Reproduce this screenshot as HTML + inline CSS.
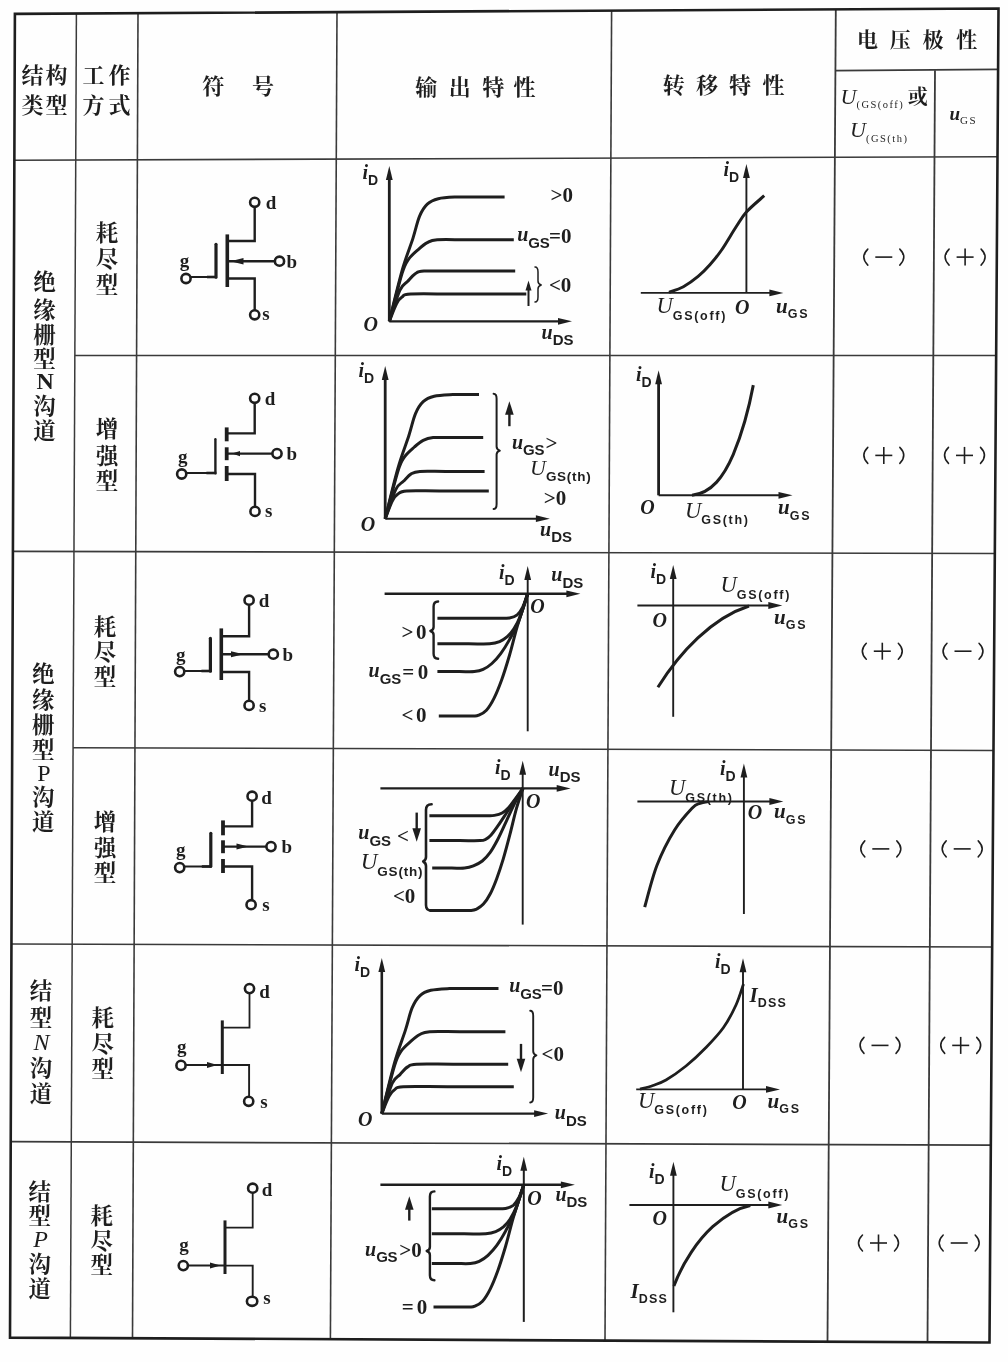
<!DOCTYPE html>
<html><head><meta charset="utf-8"><title>FET table</title><style>html,body{margin:0;padding:0;background:#fefefe}svg{display:block}text{font-family:"Liberation Serif",serif}.cj{font-family:"Liberation Serif","Noto Serif CJK SC",serif;font-weight:bold;fill:#1e1e1e}</style></head><body>
<svg width="1008" height="1362" viewBox="0 0 1008 1362">
<rect width="1008" height="1362" fill="#fefefe"/>
<g fill="#1e1e1e" stroke="none" style="filter:blur(0.45px)">
<path d="M76.4 13.5Q74.8 675.7 70.4 1337.9" stroke="#3a3a3a" stroke-width="1.5" fill="none"/>
<path d="M138 13.2Q136.7 675.7 132.5 1338.2" stroke="#3a3a3a" stroke-width="1.6" fill="none"/>
<path d="M337 12.1Q335.1 675.7 330.4 1339.2" stroke="#3a3a3a" stroke-width="1.6" fill="none"/>
<path d="M611.6 10.6Q609.7 675.6 605 1340.6" stroke="#3a3a3a" stroke-width="1.6" fill="none"/>
<path d="M835.8 9.4Q833.1 675.5 827.5 1341.7" stroke="#3a3a3a" stroke-width="1.8" fill="none"/>
<path d="M935 70.3L927.5 1342.2" stroke="#3a3a3a" stroke-width="1.8" stroke-linecap="butt"/>
<path d="M14.4 160.2L997.5 156.7" stroke="#3a3a3a" stroke-width="1.6" stroke-linecap="butt"/>
<path d="M74.8 355.5L996.2 355.5" stroke="#3a3a3a" stroke-width="1.5" stroke-linecap="butt"/>
<path d="M12.9 551.4L994.8 553.5" stroke="#3a3a3a" stroke-width="1.6" stroke-linecap="butt"/>
<path d="M73.1 747.8L993.5 750.5" stroke="#3a3a3a" stroke-width="1.5" stroke-linecap="butt"/>
<path d="M11.5 944L992.2 947" stroke="#3a3a3a" stroke-width="1.7" stroke-linecap="butt"/>
<path d="M10.7 1141.7L990.8 1145.2" stroke="#3a3a3a" stroke-width="1.7" stroke-linecap="butt"/>
<path d="M835.4 70.6L998.1 69.4" stroke="#3a3a3a" stroke-width="1.6" stroke-linecap="butt"/>
<path d="M14.9 13.9L998.5 8.5L989.5 1342.5L10 1337.6Z" stroke="#1e1e1e" stroke-width="2.6" fill="none" stroke-linecap="butt" stroke-linejoin="miter"/>
<text class="cj" x="21.5" y="82.9" font-size="22">结</text>
<text class="cj" x="45.5" y="82.9" font-size="22">构</text>
<text class="cj" x="21.5" y="112.9" font-size="22">类</text>
<text class="cj" x="45.5" y="112.9" font-size="22">型</text>
<text class="cj" x="82.5" y="82.9" font-size="22">工</text>
<text class="cj" x="108.5" y="82.9" font-size="22">作</text>
<text class="cj" x="82.5" y="112.9" font-size="22">方</text>
<text class="cj" x="108.5" y="112.9" font-size="22">式</text>
<text class="cj" x="202.2" y="94.4" font-size="22">符</text>
<text class="cj" x="252" y="94.4" font-size="22">号</text>
<text class="cj" x="415.3" y="94.6" font-size="22">输</text>
<text class="cj" x="448.8" y="94.6" font-size="22">出</text>
<text class="cj" x="482.3" y="94.6" font-size="22">特</text>
<text class="cj" x="513.6" y="94.6" font-size="22">性</text>
<text class="cj" x="662.7" y="93" font-size="22">转</text>
<text class="cj" x="696.1" y="93" font-size="22">移</text>
<text class="cj" x="729.1" y="93" font-size="22">特</text>
<text class="cj" x="762.6" y="93" font-size="22">性</text>
<text class="cj" x="857" y="46.7" font-size="21">电</text>
<text class="cj" x="889.8" y="46.7" font-size="21">压</text>
<text class="cj" x="922.5" y="46.7" font-size="21">极</text>
<text class="cj" x="956.2" y="46.7" font-size="21">性</text>
<text class="cj" x="907.7" y="103.8" font-size="20">或</text>
<text class="cj" x="33.2" y="290.4" font-size="22.5">绝</text>
<text class="cj" x="33.2" y="318.4" font-size="22.5">缘</text>
<text class="cj" x="33.2" y="343.4" font-size="22.5">栅</text>
<text class="cj" x="33.2" y="366.8" font-size="22.5">型</text>
<text x="45.1" y="388.5" font-family="Liberation Serif" font-size="24" font-weight="bold" font-style="normal" text-anchor="middle">N</text>
<text class="cj" x="33.2" y="413.8" font-size="22.5">沟</text>
<text class="cj" x="33.2" y="438.8" font-size="22.5">道</text>
<text class="cj" x="95.8" y="240.6" font-size="22.5">耗</text>
<text class="cj" x="95.8" y="267" font-size="22.5">尽</text>
<text class="cj" x="95.8" y="293.4" font-size="22.5">型</text>
<text class="cj" x="95.8" y="437.4" font-size="22.5">增</text>
<text class="cj" x="95.8" y="463.8" font-size="22.5">强</text>
<text class="cj" x="95.8" y="488.7" font-size="22.5">型</text>
<text class="cj" x="32.1" y="681.7" font-size="22.5">绝</text>
<text class="cj" x="32.1" y="708.1" font-size="22.5">缘</text>
<text class="cj" x="32.1" y="733.1" font-size="22.5">栅</text>
<text class="cj" x="32.1" y="758" font-size="22.5">型</text>
<text x="44" y="780.5" font-family="Liberation Serif" font-size="24" font-weight="normal" font-style="normal" text-anchor="middle">P</text>
<text class="cj" x="32.1" y="805" font-size="22.5">沟</text>
<text class="cj" x="32.1" y="830" font-size="22.5">道</text>
<text class="cj" x="93.7" y="634.7" font-size="22.5">耗</text>
<text class="cj" x="93.7" y="659.6" font-size="22.5">尽</text>
<text class="cj" x="93.7" y="684.6" font-size="22.5">型</text>
<text class="cj" x="93.7" y="830" font-size="22.5">增</text>
<text class="cj" x="93.7" y="856.4" font-size="22.5">强</text>
<text class="cj" x="93.7" y="881.4" font-size="22.5">型</text>
<text class="cj" x="29.7" y="999.4" font-size="22.5">结</text>
<text class="cj" x="29.7" y="1025.9" font-size="22.5">型</text>
<text x="41.6" y="1050.4" font-family="Liberation Serif" font-size="24" font-weight="normal" font-style="italic" text-anchor="middle">N</text>
<text class="cj" x="29.7" y="1075.8" font-size="22.5">沟</text>
<text class="cj" x="29.7" y="1102.2" font-size="22.5">道</text>
<text class="cj" x="91.4" y="1025.9" font-size="22.5">耗</text>
<text class="cj" x="91.4" y="1052.3" font-size="22.5">尽</text>
<text class="cj" x="91.4" y="1077.3" font-size="22.5">型</text>
<text class="cj" x="28.6" y="1200.2" font-size="22.5">结</text>
<text class="cj" x="28.6" y="1224" font-size="22.5">型</text>
<text x="40.5" y="1247.4" font-family="Liberation Serif" font-size="24" font-weight="normal" font-style="italic" text-anchor="middle">P</text>
<text class="cj" x="28.6" y="1271.6" font-size="22.5">沟</text>
<text class="cj" x="28.6" y="1297.4" font-size="22.5">道</text>
<text class="cj" x="90.6" y="1224" font-size="22.5">耗</text>
<text class="cj" x="90.6" y="1248.8" font-size="22.5">尽</text>
<text class="cj" x="90.6" y="1272.6" font-size="22.5">型</text>
<path d="M254.7 206.3L254.7 241L227.3 241" stroke="#1e1e1e" stroke-width="2.4" fill="none" stroke-linecap="butt" stroke-linejoin="miter"/>
<circle cx="254.7" cy="202.3" r="4.6" stroke="#1e1e1e" stroke-width="2.6" fill="#fefefe"/>
<path d="M227.3 234.4L227.3 287" stroke="#1e1e1e" stroke-width="3.6" stroke-linecap="butt"/>
<path d="M216 244.3L216 277.2" stroke="#1e1e1e" stroke-width="3.2" stroke-linecap="round"/>
<path d="M190.5 277L216 277" stroke="#1e1e1e" stroke-width="2" stroke-linecap="butt"/>
<path d="M207 277L217 277" stroke="#1e1e1e" stroke-width="2.6" stroke-linecap="butt"/>
<circle cx="186" cy="278.5" r="4.6" stroke="#1e1e1e" stroke-width="2.6" fill="#fefefe"/>
<path d="M227.3 261.2L275 261.2" stroke="#1e1e1e" stroke-width="2.4" stroke-linecap="butt"/>
<circle cx="279.5" cy="261.2" r="4.6" stroke="#1e1e1e" stroke-width="2.6" fill="#fefefe"/>
<path d="M230.5 261.2L243.5 258L243.5 264.4Z" fill="#1e1e1e"/>
<path d="M227.3 278.5L254.7 278.5L254.7 310" stroke="#1e1e1e" stroke-width="2.4" fill="none" stroke-linecap="butt" stroke-linejoin="miter"/>
<circle cx="254.7" cy="314.8" r="4.6" stroke="#1e1e1e" stroke-width="2.6" fill="#fefefe"/>
<text x="271" y="209" font-family="Liberation Serif" font-size="19" font-weight="bold" font-style="normal" text-anchor="middle">d</text>
<text x="184.6" y="266.8" font-family="Liberation Serif" font-size="19" font-weight="bold" font-style="normal" text-anchor="middle">g</text>
<text x="291.8" y="268.3" font-family="Liberation Serif" font-size="19" font-weight="bold" font-style="normal" text-anchor="middle">b</text>
<text x="266" y="319.5" font-family="Liberation Serif" font-size="19" font-weight="bold" font-style="normal" text-anchor="middle">s</text>
<path d="M254.7 402.3L254.7 433.4L226.7 433.4" stroke="#1e1e1e" stroke-width="2.4" fill="none" stroke-linecap="butt" stroke-linejoin="miter"/>
<circle cx="254.7" cy="398.3" r="4.6" stroke="#1e1e1e" stroke-width="2.6" fill="#fefefe"/>
<path d="M226.7 427.4L226.7 441.3" stroke="#1e1e1e" stroke-width="3.8" stroke-linecap="butt"/>
<path d="M226.7 447.3L226.7 460.2" stroke="#1e1e1e" stroke-width="3.8" stroke-linecap="butt"/>
<path d="M226.7 466L226.7 481" stroke="#1e1e1e" stroke-width="3.8" stroke-linecap="butt"/>
<path d="M215.4 439.3L215.4 473.2" stroke="#1e1e1e" stroke-width="2.4" stroke-linecap="round"/>
<path d="M186 473L215.4 473" stroke="#1e1e1e" stroke-width="2" stroke-linecap="butt"/>
<path d="M206.4 473L216.4 473" stroke="#1e1e1e" stroke-width="2.6" stroke-linecap="butt"/>
<circle cx="181.7" cy="474" r="4.6" stroke="#1e1e1e" stroke-width="2.6" fill="#fefefe"/>
<path d="M226.7 453.6L272 453.6" stroke="#1e1e1e" stroke-width="2.4" stroke-linecap="butt"/>
<circle cx="277" cy="453.6" r="4.6" stroke="#1e1e1e" stroke-width="2.6" fill="#fefefe"/>
<path d="M232 453.6L240 451L240 456.2Z" fill="#1e1e1e"/>
<path d="M226.7 474L255 474L255 507" stroke="#1e1e1e" stroke-width="2.4" fill="none" stroke-linecap="butt" stroke-linejoin="miter"/>
<circle cx="255" cy="511.4" r="4.6" stroke="#1e1e1e" stroke-width="2.6" fill="#fefefe"/>
<text x="270" y="405" font-family="Liberation Serif" font-size="19" font-weight="bold" font-style="normal" text-anchor="middle">d</text>
<text x="182.7" y="462.8" font-family="Liberation Serif" font-size="19" font-weight="bold" font-style="normal" text-anchor="middle">g</text>
<text x="291.8" y="459.9" font-family="Liberation Serif" font-size="19" font-weight="bold" font-style="normal" text-anchor="middle">b</text>
<text x="268.6" y="517.1" font-family="Liberation Serif" font-size="19" font-weight="bold" font-style="normal" text-anchor="middle">s</text>
<path d="M249.1 604.2L249.1 636.3L221.3 636.3" stroke="#1e1e1e" stroke-width="2.4" fill="none" stroke-linecap="butt" stroke-linejoin="miter"/>
<circle cx="249.1" cy="600.2" r="4.6" stroke="#1e1e1e" stroke-width="2.6" fill="#fefefe"/>
<path d="M221.3 628.4L221.3 680" stroke="#1e1e1e" stroke-width="3.6" stroke-linecap="butt"/>
<path d="M210.4 638.3L210.4 671.2" stroke="#1e1e1e" stroke-width="3.2" stroke-linecap="round"/>
<path d="M184 671L210.4 671" stroke="#1e1e1e" stroke-width="2" stroke-linecap="butt"/>
<path d="M201.4 671L211.4 671" stroke="#1e1e1e" stroke-width="2.6" stroke-linecap="butt"/>
<circle cx="179.7" cy="671.6" r="4.6" stroke="#1e1e1e" stroke-width="2.6" fill="#fefefe"/>
<path d="M221.3 654.2L269 654.2" stroke="#1e1e1e" stroke-width="2.4" stroke-linecap="butt"/>
<circle cx="273.3" cy="654.2" r="4.6" stroke="#1e1e1e" stroke-width="2.6" fill="#fefefe"/>
<path d="M243.5 654.2L231 651.2L231 657.2Z" fill="#1e1e1e"/>
<path d="M221.3 672L249.1 672L249.1 701" stroke="#1e1e1e" stroke-width="2.4" fill="none" stroke-linecap="butt" stroke-linejoin="miter"/>
<circle cx="249.1" cy="705.4" r="4.6" stroke="#1e1e1e" stroke-width="2.6" fill="#fefefe"/>
<text x="264" y="606.9" font-family="Liberation Serif" font-size="19" font-weight="bold" font-style="normal" text-anchor="middle">d</text>
<text x="180.7" y="660.8" font-family="Liberation Serif" font-size="19" font-weight="bold" font-style="normal" text-anchor="middle">g</text>
<text x="287.8" y="660.5" font-family="Liberation Serif" font-size="19" font-weight="bold" font-style="normal" text-anchor="middle">b</text>
<text x="262.6" y="712.1" font-family="Liberation Serif" font-size="19" font-weight="bold" font-style="normal" text-anchor="middle">s</text>
<path d="M252.1 800.2L252.1 826.4L223 826.4" stroke="#1e1e1e" stroke-width="2.4" fill="none" stroke-linecap="butt" stroke-linejoin="miter"/>
<circle cx="252.1" cy="796.2" r="4.6" stroke="#1e1e1e" stroke-width="2.6" fill="#fefefe"/>
<path d="M223 820.4L223 835.3" stroke="#1e1e1e" stroke-width="3.8" stroke-linecap="butt"/>
<path d="M223 840.3L223 853.2" stroke="#1e1e1e" stroke-width="3.8" stroke-linecap="butt"/>
<path d="M223 859L223 873" stroke="#1e1e1e" stroke-width="3.8" stroke-linecap="butt"/>
<path d="M210.8 833.3L210.8 866.2" stroke="#1e1e1e" stroke-width="3.2" stroke-linecap="round"/>
<path d="M184 866.5L210.8 866.5" stroke="#1e1e1e" stroke-width="2" stroke-linecap="butt"/>
<path d="M201.8 866.5L211.8 866.5" stroke="#1e1e1e" stroke-width="2.6" stroke-linecap="butt"/>
<circle cx="179.7" cy="867.6" r="4.6" stroke="#1e1e1e" stroke-width="2.6" fill="#fefefe"/>
<path d="M223 846.6L267 846.6" stroke="#1e1e1e" stroke-width="2.4" stroke-linecap="butt"/>
<circle cx="271" cy="846.6" r="4.6" stroke="#1e1e1e" stroke-width="2.6" fill="#fefefe"/>
<path d="M248.5 846.6L236.5 843.6L236.5 849.6Z" fill="#1e1e1e"/>
<path d="M223 866.5L252.1 866.5L252.1 900" stroke="#1e1e1e" stroke-width="2.4" fill="none" stroke-linecap="butt" stroke-linejoin="miter"/>
<circle cx="251.1" cy="904.7" r="4.6" stroke="#1e1e1e" stroke-width="2.6" fill="#fefefe"/>
<text x="266.6" y="803.5" font-family="Liberation Serif" font-size="19" font-weight="bold" font-style="normal" text-anchor="middle">d</text>
<text x="180.7" y="855.8" font-family="Liberation Serif" font-size="19" font-weight="bold" font-style="normal" text-anchor="middle">g</text>
<text x="286.8" y="852.5" font-family="Liberation Serif" font-size="19" font-weight="bold" font-style="normal" text-anchor="middle">b</text>
<text x="266" y="911" font-family="Liberation Serif" font-size="19" font-weight="bold" font-style="normal" text-anchor="middle">s</text>
<path d="M249.5 992.6L249.5 1027.7L222.3 1027.7" stroke="#1e1e1e" stroke-width="1.8" fill="none" stroke-linecap="butt" stroke-linejoin="miter"/>
<circle cx="249.5" cy="988.6" r="4.6" stroke="#1e1e1e" stroke-width="2.6" fill="#fefefe"/>
<path d="M222.3 1020.4L222.3 1074" stroke="#1e1e1e" stroke-width="3" stroke-linecap="butt"/>
<path d="M185 1065L222.3 1065" stroke="#1e1e1e" stroke-width="2" stroke-linecap="butt"/>
<path d="M217.5 1065L207 1062L207 1068Z" fill="#1e1e1e"/>
<circle cx="181" cy="1065.4" r="4.6" stroke="#1e1e1e" stroke-width="2.6" fill="#fefefe"/>
<path d="M222.3 1065L249.1 1065L249.1 1097" stroke="#1e1e1e" stroke-width="1.9" fill="none" stroke-linecap="butt" stroke-linejoin="miter"/>
<circle cx="248.7" cy="1101.3" r="4.6" stroke="#1e1e1e" stroke-width="2.6" fill="#fefefe"/>
<text x="264.6" y="997.9" font-family="Liberation Serif" font-size="19" font-weight="bold" font-style="normal" text-anchor="middle">d</text>
<text x="181.7" y="1052.8" font-family="Liberation Serif" font-size="19" font-weight="bold" font-style="normal" text-anchor="middle">g</text>
<text x="264" y="1107.8" font-family="Liberation Serif" font-size="19" font-weight="bold" font-style="normal" text-anchor="middle">s</text>
<path d="M252.7 1192.2L252.7 1227.7L225 1227.7" stroke="#1e1e1e" stroke-width="1.8" fill="none" stroke-linecap="butt" stroke-linejoin="miter"/>
<circle cx="252.7" cy="1188.2" r="4.6" stroke="#1e1e1e" stroke-width="2.6" fill="#fefefe"/>
<path d="M225 1220.4L225 1274" stroke="#1e1e1e" stroke-width="3" stroke-linecap="butt"/>
<path d="M187.3 1265.6L225 1265.6" stroke="#1e1e1e" stroke-width="2" stroke-linecap="butt"/>
<path d="M220.5 1265.6L210 1262.6L210 1268.6Z" fill="#1e1e1e"/>
<circle cx="183.3" cy="1265.6" r="4.6" stroke="#1e1e1e" stroke-width="2.6" fill="#fefefe"/>
<path d="M225 1265.6L252.7 1265.6L252.7 1297" stroke="#1e1e1e" stroke-width="1.9" fill="none" stroke-linecap="butt" stroke-linejoin="miter"/>
<ellipse cx="252.1" cy="1301.3" rx="5.2" ry="4.6" stroke="#1e1e1e" stroke-width="2.6" fill="#fefefe"/>
<text x="267" y="1195.9" font-family="Liberation Serif" font-size="19" font-weight="bold" font-style="normal" text-anchor="middle">d</text>
<text x="184" y="1250.8" font-family="Liberation Serif" font-size="19" font-weight="bold" font-style="normal" text-anchor="middle">g</text>
<text x="267" y="1304.3" font-family="Liberation Serif" font-size="19" font-weight="bold" font-style="normal" text-anchor="middle">s</text>
<path d="M389.3 321.3L389.3 174" stroke="#1e1e1e" stroke-width="2.8" stroke-linecap="butt"/>
<path d="M389.3 166L392.7 180L385.9 180Z" fill="#1e1e1e"/>
<path d="M389.3 321.3L564 321.3" stroke="#1e1e1e" stroke-width="2.2" stroke-linecap="butt"/>
<path d="M572 321.3L558 324.7L558 317.9Z" fill="#1e1e1e"/>
<path d="M389.3 321.3C391.4 312.9 398.1 284.8 402 270.9C405.9 257 410.1 247.2 413 238.1C415.9 229 417.2 221.8 419.6 216.2C422 210.5 424.2 207.1 427.3 204.2C430.4 201.2 433.4 199.9 438.3 198.7C443.2 197.5 450.7 197.3 457 197C463.3 196.7 468.1 197 476 197C484 197 499.8 197 504.6 197" stroke="#1e1e1e" stroke-width="3" fill="none" stroke-linecap="butt" stroke-linejoin="round"/>
<path d="M389.3 321.3C391.4 313.4 398.8 284 402 273.6C405.2 263.3 405.9 263.3 408.6 259.2C411.4 255.2 415.4 252 418.5 249.3C421.6 246.5 424.2 244.2 427.3 242.6C430.4 241 430.4 240.3 437.2 239.8C444 239.3 455.1 239.8 467.8 239.8C480.6 239.8 506.1 239.8 513.8 239.8" stroke="#1e1e1e" stroke-width="3" fill="none" stroke-linecap="butt" stroke-linejoin="round"/>
<path d="M389.3 321.3C391.1 316.2 396.8 297.1 399.8 290.4C402.8 283.8 404.9 284.4 407.5 281.6C410.1 278.8 412.4 275.6 415.2 273.8C417.9 272.1 416.5 271.6 424 271.1C431.5 270.6 445.3 271.1 460.5 271.1C475.7 271.1 506.1 271.1 515.2 271.1" stroke="#1e1e1e" stroke-width="3" fill="none" stroke-linecap="butt" stroke-linejoin="round"/>
<path d="M389.3 321.3C390.5 318.4 394.4 307.7 396.5 303.7C398.6 299.7 399.6 298.7 402 297.1C404.4 295.5 401.6 294.5 410.8 294C420 293.5 437.8 294 457 294C476.2 294 514.8 294 526.3 294" stroke="#1e1e1e" stroke-width="3" fill="none" stroke-linecap="butt" stroke-linejoin="round"/>
<path d="M535 267Q538 267 538 272L538 281Q538 284 541.2 285Q538 286 538 289L538 297Q538 302 535 302" stroke="#1e1e1e" stroke-width="1.5" fill="none" stroke-linecap="round" stroke-linejoin="round"/>
<path d="M528.5 306L528.5 288" stroke="#1e1e1e" stroke-width="2" stroke-linecap="butt"/>
<path d="M528.5 280.5L531.5 290.5L525.5 290.5Z" fill="#1e1e1e"/>
<path d="M746.4 292.9L746.4 172" stroke="#1e1e1e" stroke-width="1.9" stroke-linecap="butt"/>
<path d="M746.4 164L749.8 178L743 178Z" fill="#1e1e1e"/>
<path d="M640.8 292.9L775.4 292.9" stroke="#1e1e1e" stroke-width="1.9" stroke-linecap="butt"/>
<path d="M783.4 292.9L769.4 296.3L769.4 289.5Z" fill="#1e1e1e"/>
<path d="M669 292.3C671.4 291.4 678.5 289.4 683.4 286.7C688.2 284 693.7 280.1 698.1 276.4C702.5 272.7 706 269.1 709.9 264.7C713.8 260.3 717.2 256.4 721.6 250C726 243.6 732.1 232.9 736.3 226.5C740.5 220.1 742 216.9 746.6 211.8C751.2 206.7 761.3 198.4 764.2 195.7" stroke="#1e1e1e" stroke-width="3" fill="none" stroke-linecap="butt" stroke-linejoin="round"/>
<path d="M385.2 518.7L385.2 373.9" stroke="#1e1e1e" stroke-width="2.8" stroke-linecap="butt"/>
<path d="M385.2 365.9L388.6 379.9L381.8 379.9Z" fill="#1e1e1e"/>
<path d="M385.2 518.7L541.9 518.7" stroke="#1e1e1e" stroke-width="2" stroke-linecap="butt"/>
<path d="M549.9 518.7L535.9 522.1L535.9 515.3Z" fill="#1e1e1e"/>
<path d="M385.2 518.7C387.3 510.3 393.9 482.2 397.9 468.3C401.8 454.5 406 444.6 408.9 435.5C411.8 426.4 413.1 419.3 415.5 413.7C417.9 408 420.1 404.6 423.2 401.7C426.3 398.7 429.2 397.4 434.2 396.2C439.1 395 448 394.8 452.9 394.5C457.8 394.2 459 394.5 463.3 394.5C467.7 394.5 476.4 394.5 479 394.5" stroke="#1e1e1e" stroke-width="3" fill="none" stroke-linecap="butt" stroke-linejoin="round"/>
<path d="M385.2 518.7C387.3 510.8 394.7 481.5 397.9 471.2C401.1 460.9 401.8 461 404.5 456.9C407.2 452.9 411.3 449.8 414.4 447C417.5 444.3 420.1 442 423.2 440.4C426.3 438.8 428.1 438.1 433.1 437.6C438.1 437.1 444.8 437.6 453.1 437.6C461.5 437.6 478.2 437.6 483.2 437.6" stroke="#1e1e1e" stroke-width="3" fill="none" stroke-linecap="butt" stroke-linejoin="round"/>
<path d="M385.2 518.7C386.9 513.9 392.7 495.9 395.7 489.6C398.7 483.4 400.8 483.9 403.4 481.3C406 478.7 408.3 475.6 411.1 473.9C413.8 472.3 414.1 471.8 419.9 471.4C425.7 471 435 471.4 445.8 471.4C456.6 471.4 478.1 471.4 484.6 471.4" stroke="#1e1e1e" stroke-width="3" fill="none" stroke-linecap="butt" stroke-linejoin="round"/>
<path d="M385.2 518.7C386.4 515.7 390.3 504.9 392.4 500.8C394.5 496.7 395.5 495.7 397.9 494.1C400.3 492.4 399.8 491.4 406.7 490.9C413.6 490.4 425.9 490.9 439.5 490.9C453.2 490.9 480.6 490.9 488.8 490.9" stroke="#1e1e1e" stroke-width="3" fill="none" stroke-linecap="butt" stroke-linejoin="round"/>
<path d="M493.6 393.7Q496.6 393.7 496.6 398.7L496.6 446.6Q496.6 449.6 499.8 450.6Q496.6 451.6 496.6 454.6L496.6 504Q496.6 509 493.6 509" stroke="#1e1e1e" stroke-width="2" fill="none" stroke-linecap="round" stroke-linejoin="round"/>
<path d="M509.4 426.2L509.4 410.2" stroke="#1e1e1e" stroke-width="2.4" stroke-linecap="butt"/>
<path d="M509.4 401.2L513.7 414.7L505.1 414.7Z" fill="#1e1e1e"/>
<path d="M658.6 495.3L658.6 378.3" stroke="#1e1e1e" stroke-width="2.8" stroke-linecap="butt"/>
<path d="M658.6 370.3L662 384.3L655.2 384.3Z" fill="#1e1e1e"/>
<path d="M658.6 495.3L784.5 495.3" stroke="#1e1e1e" stroke-width="2" stroke-linecap="butt"/>
<path d="M792.5 495.3L778.5 498.7L778.5 491.9Z" fill="#1e1e1e"/>
<path d="M692 495.3C712 493 724 476 733.2 454.7C743 431 749 408 753.3 385.1" stroke="#1e1e1e" stroke-width="3" fill="none" stroke-linecap="butt" stroke-linejoin="round"/>
<path d="M527.7 731.3L527.7 574" stroke="#1e1e1e" stroke-width="1.9" stroke-linecap="butt"/>
<path d="M527.7 566L531.1 580L524.3 580Z" fill="#1e1e1e"/>
<path d="M384.6 593.8L572.4 593.8" stroke="#1e1e1e" stroke-width="2.4" stroke-linecap="butt"/>
<path d="M580.4 593.8L566.4 597.2L566.4 590.4Z" fill="#1e1e1e"/>
<path d="M527.7 593.8C526.9 596 524.5 603.6 522.7 607.1C521 610.6 519.4 613 517.2 614.8C515 616.6 513 617.3 509.5 617.9C506 618.5 502.4 618.2 496.3 618.3C490.2 618.4 482.6 618.3 472.7 618.3C462.9 618.3 443.3 618.3 437.4 618.3" stroke="#1e1e1e" stroke-width="3" fill="none" stroke-linecap="butt" stroke-linejoin="round"/>
<path d="M527.7 593.8C526.5 597.5 522.8 609.9 520.5 615.8C518.2 621.6 516.1 625.4 513.9 628.9C511.7 632.4 509.7 634.6 507.3 636.7C504.9 638.8 502.5 640.4 499.6 641.6C496.7 642.8 494.8 643.4 489.7 643.8C484.6 644.2 477.5 643.8 468.8 643.8C460.1 643.8 442.6 643.8 437.4 643.8" stroke="#1e1e1e" stroke-width="3" fill="none" stroke-linecap="butt" stroke-linejoin="round"/>
<path d="M527.7 593.8C526.1 598.5 521.3 614.4 518.3 622.1C515.3 629.7 512.4 634.3 509.5 639.6C506.6 644.8 503.6 649.7 500.7 653.7C497.8 657.7 494.8 660.9 491.9 663.5C489 666.1 486 668.1 483.1 669.4C480.2 670.8 478.2 671.2 474.3 671.6C470.4 672 465.7 671.6 459.5 671.6C453.4 671.6 441.1 671.6 437.4 671.6" stroke="#1e1e1e" stroke-width="3" fill="none" stroke-linecap="butt" stroke-linejoin="round"/>
<path d="M527.7 593.8C526 599.3 520.2 616.5 517.2 626.7C514.2 637 512.1 646.6 509.5 655.3C506.9 664.1 504.4 672.4 501.8 679.5C499.2 686.6 496.7 693 494.1 698.1C491.5 703.3 489 707.4 486.4 710.2C483.8 713.1 480.9 714.2 478.7 715.2C476.5 716.2 476.4 715.9 473.2 716C470 716.1 465.2 716 459.4 716C453.7 716 442.2 716 438.8 716" stroke="#1e1e1e" stroke-width="3" fill="none" stroke-linecap="butt" stroke-linejoin="round"/>
<path d="M438.1 601.5Q433.6 601.5 433.6 606.5L433.6 627Q433.6 630 430.4 631Q433.6 632 433.6 635L433.6 653.8Q433.6 658.8 438.1 658.8" stroke="#1e1e1e" stroke-width="2.4" fill="none" stroke-linecap="round" stroke-linejoin="round"/>
<path d="M673.2 716.8L673.2 573.1" stroke="#1e1e1e" stroke-width="1.9" stroke-linecap="butt"/>
<path d="M673.2 565.1L676.6 579.1L669.8 579.1Z" fill="#1e1e1e"/>
<path d="M637.4 605.5L774.3 605.5" stroke="#1e1e1e" stroke-width="1.9" stroke-linecap="butt"/>
<path d="M782.3 605.5L768.3 608.9L768.3 602.1Z" fill="#1e1e1e"/>
<path d="M657.9 687.2C680 652 712 618 749 606" stroke="#1e1e1e" stroke-width="3" fill="none" stroke-linecap="butt" stroke-linejoin="round"/>
<path d="M522.7 924.6L522.7 768.7" stroke="#1e1e1e" stroke-width="1.9" stroke-linecap="butt"/>
<path d="M522.7 760.7L526.1 774.7L519.3 774.7Z" fill="#1e1e1e"/>
<path d="M380.4 788.4L562.7 788.4" stroke="#1e1e1e" stroke-width="2.4" stroke-linecap="butt"/>
<path d="M570.7 788.4L556.7 791.8L556.7 785Z" fill="#1e1e1e"/>
<path d="M523 788.3C521.7 790 517.7 795.6 515.3 798.8C512.9 802 510.9 805.2 508.7 807.5C506.5 809.9 504.5 811.7 502.1 813C499.7 814.3 497 814.9 494.4 815.4C491.8 815.9 491.8 815.7 486.7 815.8C481.6 815.9 473.3 815.8 463.8 815.8C454.2 815.8 435.1 815.8 429.4 815.8" stroke="#1e1e1e" stroke-width="3" fill="none" stroke-linecap="butt" stroke-linejoin="round"/>
<path d="M523 788.3C521.7 790.2 518 795.7 515.3 799.9C512.5 804 509.4 808.6 506.5 813C503.6 817.4 500.3 822.5 497.7 826.2C495.1 829.8 493.1 832.7 491.1 834.9C489.1 837.1 487.5 838.4 485.6 839.3C483.8 840.3 484.3 840.4 480 840.6C475.7 840.8 468.2 840.6 459.8 840.6C451.3 840.6 434.5 840.6 429.4 840.6" stroke="#1e1e1e" stroke-width="3" fill="none" stroke-linecap="butt" stroke-linejoin="round"/>
<path d="M523 788.3C521.7 790.6 518 796.7 515.3 802.1C512.5 807.5 509.4 814.6 506.5 820.8C503.6 827 500.4 834.2 497.7 839.5C494.9 844.8 492.6 849.1 490 852.7C487.4 856.3 485.1 858.8 482.3 861C479.5 863.2 476.3 864.7 473.4 865.9C470.4 867.1 468.2 867.7 464.6 868.1C461 868.5 457 868.1 451.6 868.1C446.2 868.1 435.4 868.1 432.2 868.1" stroke="#1e1e1e" stroke-width="3" fill="none" stroke-linecap="butt" stroke-linejoin="round"/>
<path d="M523 788.3C521.9 791.7 518.6 800.9 516.4 808.6C514.2 816.4 512 826.5 509.8 834.9C507.6 843.4 505.4 851.7 503.2 859.1C501 866.4 498.8 873 496.6 878.9C494.4 884.8 492.2 890.1 490 894.3C487.8 898.5 485.6 901.7 483.4 904.1C481.2 906.6 478.7 907.9 476.7 909C474.7 910.1 474.9 910.3 471.2 910.5C467.5 910.7 461.4 910.5 454.5 910.5C447.5 910.5 433.6 910.5 429.4 910.5" stroke="#1e1e1e" stroke-width="3" fill="none" stroke-linecap="butt" stroke-linejoin="round"/>
<path d="M431.6 804.3Q426 804.3 426 810L426 857Q426 860 423.2 861.5Q426 863 426 866L426 905Q426 910.5 431 910.5" stroke="#1e1e1e" stroke-width="2.6" fill="none" stroke-linecap="round" stroke-linejoin="round"/>
<path d="M416.7 812.6L416.7 832.8" stroke="#1e1e1e" stroke-width="2.4" stroke-linecap="butt"/>
<path d="M416.7 841.8L412.4 828.3L421 828.3Z" fill="#1e1e1e"/>
<path d="M743.9 914L743.9 771.4" stroke="#1e1e1e" stroke-width="1.9" stroke-linecap="butt"/>
<path d="M743.9 763.4L747.3 777.4L740.5 777.4Z" fill="#1e1e1e"/>
<path d="M637.4 801.5L775.4 801.5" stroke="#1e1e1e" stroke-width="1.9" stroke-linecap="butt"/>
<path d="M783.4 801.5L769.4 804.9L769.4 798.1Z" fill="#1e1e1e"/>
<path d="M644.7 907.1C646.8 900.1 652 878.1 657 865.3C662 852.4 668.7 839.5 674.6 830C680.5 820.5 688.1 812.5 692.3 808C696.5 803.5 697.2 804.4 700 803.3C702.8 802.2 707.5 801.9 709 801.6" stroke="#1e1e1e" stroke-width="3" fill="none" stroke-linecap="butt" stroke-linejoin="round"/>
<path d="M381.8 1113.6L381.8 966" stroke="#1e1e1e" stroke-width="2.6" stroke-linecap="butt"/>
<path d="M381.8 958L385.2 972L378.4 972Z" fill="#1e1e1e"/>
<path d="M381.8 1113.6L540.1 1113.6" stroke="#1e1e1e" stroke-width="2.2" stroke-linecap="butt"/>
<path d="M548.1 1113.6L534.1 1117L534.1 1110.2Z" fill="#1e1e1e"/>
<path d="M381.8 1113.6C383.9 1105.1 390.6 1076.8 394.5 1062.9C398.4 1048.9 402.6 1039.1 405.5 1029.9C408.4 1020.7 409.7 1013.6 412.1 1007.9C414.5 1002.2 416.7 998.7 419.8 995.8C422.9 992.9 425.9 991.5 430.8 990.3C435.8 989.1 443.1 988.9 449.5 988.6C455.9 988.3 460.9 988.6 469.1 988.6C477.3 988.6 493.6 988.6 498.5 988.6" stroke="#1e1e1e" stroke-width="3" fill="none" stroke-linecap="butt" stroke-linejoin="round"/>
<path d="M381.8 1113.6C383.9 1105.6 391.3 1076.1 394.5 1065.7C397.7 1055.3 398.4 1055.3 401.1 1051.2C403.9 1047.1 407.9 1044 411 1041.2C414.1 1038.4 416.7 1036.1 419.8 1034.5C422.9 1032.9 423 1032.2 429.7 1031.7C436.4 1031.2 447.4 1031.7 460 1031.7C472.6 1031.7 497.8 1031.7 505.4 1031.7" stroke="#1e1e1e" stroke-width="3" fill="none" stroke-linecap="butt" stroke-linejoin="round"/>
<path d="M381.8 1113.6C383.6 1108.5 389.3 1089.7 392.3 1083.2C395.3 1076.7 397.4 1077.3 400 1074.6C402.6 1071.8 404.9 1068.6 407.7 1066.9C410.4 1065.1 408.9 1064.6 416.5 1064.2C424.1 1063.8 437.9 1064.2 453.2 1064.2C468.5 1064.2 499 1064.2 508.2 1064.2" stroke="#1e1e1e" stroke-width="3" fill="none" stroke-linecap="butt" stroke-linejoin="round"/>
<path d="M381.8 1113.6C383 1110.7 386.9 1100.2 389 1096.3C391.1 1092.3 392.1 1091.3 394.5 1089.8C396.9 1088.2 394.5 1087.2 403.3 1086.7C412.1 1086.2 429.1 1086.7 447.5 1086.7C465.9 1086.7 502.7 1086.7 513.8 1086.7" stroke="#1e1e1e" stroke-width="3" fill="none" stroke-linecap="butt" stroke-linejoin="round"/>
<path d="M530.2 1010.8Q533.2 1010.8 533.2 1015.8L533.2 1051.3Q533.2 1054.3 536.4 1055.3Q533.2 1056.3 533.2 1059.3L533.2 1097.5Q533.2 1102.5 530.2 1102.5" stroke="#1e1e1e" stroke-width="1.9" fill="none" stroke-linecap="round" stroke-linejoin="round"/>
<path d="M521 1043.9L521 1063.3" stroke="#1e1e1e" stroke-width="2.4" stroke-linecap="butt"/>
<path d="M521 1072.3L516.7 1058.8L525.3 1058.8Z" fill="#1e1e1e"/>
<path d="M743 1089.4L743 966.3" stroke="#1e1e1e" stroke-width="1.9" stroke-linecap="butt"/>
<path d="M743 958.3L746.4 972.3L739.6 972.3Z" fill="#1e1e1e"/>
<path d="M636.2 1089.4L772 1089.4" stroke="#1e1e1e" stroke-width="1.9" stroke-linecap="butt"/>
<path d="M780 1089.4L766 1092.8L766 1086Z" fill="#1e1e1e"/>
<path d="M640 1089.2C642.2 1088.6 648.7 1087 653 1085.5C657.3 1084 660.5 1083.2 666 1080C671.5 1076.8 679.3 1071.4 686 1066C692.7 1060.6 699.8 1053.9 706 1047.5C712.2 1041.1 718.5 1034.6 723.5 1027.5C728.5 1020.4 732.7 1012.2 736 1005C739.3 997.8 742.2 987.5 743.5 984" stroke="#1e1e1e" stroke-width="2.8" fill="none" stroke-linecap="butt" stroke-linejoin="round"/>
<path d="M523.8 1321.9L523.8 1164.7" stroke="#1e1e1e" stroke-width="2" stroke-linecap="butt"/>
<path d="M523.8 1156.7L527.2 1170.7L520.4 1170.7Z" fill="#1e1e1e"/>
<path d="M380.4 1184.8L566.9 1184.8" stroke="#1e1e1e" stroke-width="2.5" stroke-linecap="butt"/>
<path d="M574.9 1184.8L560.9 1188.2L560.9 1181.4Z" fill="#1e1e1e"/>
<path d="M523.8 1184.8C523 1187 520.5 1194.4 518.8 1197.8C517 1201.2 515.5 1203.6 513.3 1205.4C511.1 1207.1 509.1 1207.8 505.6 1208.4C502.1 1209 498.6 1208.7 492.4 1208.8C486.2 1208.9 478.3 1208.8 468.2 1208.8C458.1 1208.8 437.9 1208.8 431.8 1208.8" stroke="#1e1e1e" stroke-width="3" fill="none" stroke-linecap="butt" stroke-linejoin="round"/>
<path d="M523.8 1184.8C522.6 1188.4 518.9 1200.6 516.6 1206.3C514.3 1212.1 512.2 1215.8 510 1219.2C507.8 1222.7 505.8 1224.8 503.4 1226.9C501 1228.9 498.6 1230.5 495.7 1231.6C492.8 1232.8 491 1233.4 485.8 1233.8C480.5 1234.2 473.2 1233.8 464.2 1233.8C455.2 1233.8 437.2 1233.8 431.8 1233.8" stroke="#1e1e1e" stroke-width="3" fill="none" stroke-linecap="butt" stroke-linejoin="round"/>
<path d="M523.8 1184.8C522.2 1189.6 517.4 1205.7 514.4 1213.4C511.4 1221.1 508.5 1225.8 505.6 1231.1C502.7 1236.4 499.7 1241.4 496.8 1245.4C493.9 1249.4 490.9 1252.6 488 1255.3C485.1 1258 482.1 1259.9 479.2 1261.3C476.3 1262.7 474.4 1263.1 470.4 1263.5C466.4 1263.9 461.4 1263.5 455 1263.5C448.5 1263.5 435.7 1263.5 431.8 1263.5" stroke="#1e1e1e" stroke-width="3" fill="none" stroke-linecap="butt" stroke-linejoin="round"/>
<path d="M523.8 1184.8C522 1190.3 516.3 1207.5 513.3 1217.7C510.3 1228 508.2 1237.6 505.6 1246.3C503 1255.1 500.5 1263.4 497.9 1270.5C495.3 1277.6 492.8 1284 490.2 1289.1C487.6 1294.3 485.1 1298.4 482.5 1301.2C479.9 1304.1 477 1305.2 474.8 1306.2C472.6 1307.2 472.6 1306.9 469.3 1307C466 1307.1 460.9 1307 455 1307C449 1307 437.1 1307 433.5 1307" stroke="#1e1e1e" stroke-width="3" fill="none" stroke-linecap="butt" stroke-linejoin="round"/>
<path d="M434.4 1191.4Q429.9 1191.4 429.9 1196.4L429.9 1247Q429.9 1250 426.7 1251Q429.9 1252 429.9 1255L429.9 1275.3Q429.9 1280.3 434.4 1280.3" stroke="#1e1e1e" stroke-width="2.4" fill="none" stroke-linecap="round" stroke-linejoin="round"/>
<path d="M409.3 1220.6L409.3 1205.2" stroke="#1e1e1e" stroke-width="2.4" stroke-linecap="butt"/>
<path d="M409.3 1196.2L413.6 1209.7L405 1209.7Z" fill="#1e1e1e"/>
<path d="M673.4 1312.3L673.4 1169.7" stroke="#1e1e1e" stroke-width="1.9" stroke-linecap="butt"/>
<path d="M673.4 1161.7L676.8 1175.7L670 1175.7Z" fill="#1e1e1e"/>
<path d="M629.4 1205L774.3 1205" stroke="#1e1e1e" stroke-width="1.9" stroke-linecap="butt"/>
<path d="M782.3 1205L768.3 1208.4L768.3 1201.6Z" fill="#1e1e1e"/>
<path d="M673.9 1286C683 1262 698 1240 712.7 1226.7C726 1215 738 1208 750.3 1205.5" stroke="#1e1e1e" stroke-width="3" fill="none" stroke-linecap="butt" stroke-linejoin="round"/>
<text x="362.5" y="178.5" font-family="Liberation Serif" text-anchor="start"><tspan font-size="20" font-style="italic" font-weight="bold">i</tspan><tspan font-family="Liberation Sans" font-size="14" font-style="normal" font-weight="bold" letter-spacing="0" dy="6.2">D</tspan></text>
<text x="370.7" y="330.5" font-family="Liberation Serif" text-anchor="middle"><tspan font-size="20" font-style="italic" font-weight="bold">O</tspan></text>
<text x="541.6" y="338.5" font-family="Liberation Serif" text-anchor="start"><tspan font-size="20" font-style="italic" font-weight="bold">u</tspan><tspan font-family="Liberation Sans" font-size="15" font-style="normal" font-weight="bold" letter-spacing="0" dy="6.3">DS</tspan></text>
<text x="550.5" y="202.4" font-family="Liberation Serif" font-size="21" font-weight="bold" letter-spacing="0">&gt;0</text>
<text x="517.2" y="241.4" font-family="Liberation Serif" text-anchor="start"><tspan font-size="20" font-style="italic" font-weight="bold">u</tspan><tspan font-family="Liberation Sans" font-size="15" font-style="normal" font-weight="bold" letter-spacing="-0.2" dy="6.5">GS</tspan></text>
<text x="549" y="243.3" font-family="Liberation Serif" font-size="21" font-weight="bold" letter-spacing="0">=0</text>
<text x="548.9" y="292.2" font-family="Liberation Serif" font-size="21" font-weight="bold" letter-spacing="0">&lt;0</text>
<text x="723.5" y="175.5" font-family="Liberation Serif" text-anchor="start"><tspan font-size="20" font-style="italic" font-weight="bold">i</tspan><tspan font-family="Liberation Sans" font-size="14" font-style="normal" font-weight="bold" letter-spacing="0" dy="6.2">D</tspan></text>
<text x="656.5" y="313" font-family="Liberation Serif" text-anchor="start"><tspan font-size="22.5" font-style="italic" font-weight="normal">U</tspan><tspan font-family="Liberation Sans" font-size="12.5" font-style="normal" font-weight="bold" letter-spacing="1.7" dy="6.5">GS(off)</tspan></text>
<text x="742.3" y="313.5" font-family="Liberation Serif" text-anchor="middle"><tspan font-size="20" font-style="italic" font-weight="bold">O</tspan></text>
<text x="776" y="312.5" font-family="Liberation Serif" text-anchor="start"><tspan font-size="21" font-style="italic" font-weight="bold">u</tspan><tspan font-family="Liberation Sans" font-size="12.5" font-style="normal" font-weight="bold" letter-spacing="1.8" dy="5.5">GS</tspan></text>
<text x="358.5" y="376.5" font-family="Liberation Serif" text-anchor="start"><tspan font-size="20" font-style="italic" font-weight="bold">i</tspan><tspan font-family="Liberation Sans" font-size="14" font-style="normal" font-weight="bold" letter-spacing="0" dy="6.2">D</tspan></text>
<text x="368" y="530.5" font-family="Liberation Serif" text-anchor="middle"><tspan font-size="20" font-style="italic" font-weight="bold">O</tspan></text>
<text x="540" y="536.1" font-family="Liberation Serif" text-anchor="start"><tspan font-size="20" font-style="italic" font-weight="bold">u</tspan><tspan font-family="Liberation Sans" font-size="15" font-style="normal" font-weight="bold" letter-spacing="0" dy="6.3">DS</tspan></text>
<text x="511.9" y="448.7" font-family="Liberation Serif" text-anchor="start"><tspan font-size="20" font-style="italic" font-weight="bold">u</tspan><tspan font-family="Liberation Sans" font-size="15" font-style="normal" font-weight="bold" letter-spacing="-0.2" dy="6.5">GS</tspan></text>
<text x="545.6" y="450" font-family="Liberation Serif" font-size="21" font-weight="bold" letter-spacing="0">&gt;</text>
<text x="530" y="474.9" font-family="Liberation Serif" text-anchor="start"><tspan font-size="22" font-style="italic" font-weight="normal">U</tspan><tspan font-family="Liberation Sans" font-size="13.5" font-style="normal" font-weight="bold" letter-spacing="0.7" dy="6.2">GS(th)</tspan></text>
<text x="543.7" y="504.9" font-family="Liberation Serif" font-size="21" font-weight="bold" letter-spacing="0">&gt;0</text>
<text x="636" y="380.5" font-family="Liberation Serif" text-anchor="start"><tspan font-size="20" font-style="italic" font-weight="bold">i</tspan><tspan font-family="Liberation Sans" font-size="14" font-style="normal" font-weight="bold" letter-spacing="0" dy="6.2">D</tspan></text>
<text x="647.6" y="513.5" font-family="Liberation Serif" text-anchor="middle"><tspan font-size="20" font-style="italic" font-weight="bold">O</tspan></text>
<text x="685" y="517.5" font-family="Liberation Serif" text-anchor="start"><tspan font-size="22.5" font-style="italic" font-weight="normal">U</tspan><tspan font-family="Liberation Sans" font-size="12.5" font-style="normal" font-weight="bold" letter-spacing="1.7" dy="6.5">GS(th)</tspan></text>
<text x="778" y="514" font-family="Liberation Serif" text-anchor="start"><tspan font-size="21" font-style="italic" font-weight="bold">u</tspan><tspan font-family="Liberation Sans" font-size="12.5" font-style="normal" font-weight="bold" letter-spacing="1.8" dy="5.5">GS</tspan></text>
<text x="499" y="579" font-family="Liberation Serif" text-anchor="start"><tspan font-size="20" font-style="italic" font-weight="bold">i</tspan><tspan font-family="Liberation Sans" font-size="14" font-style="normal" font-weight="bold" letter-spacing="0" dy="6.2">D</tspan></text>
<text x="551.3" y="581.3" font-family="Liberation Serif" text-anchor="start"><tspan font-size="20" font-style="italic" font-weight="bold">u</tspan><tspan font-family="Liberation Sans" font-size="15" font-style="normal" font-weight="bold" letter-spacing="0" dy="6.3">DS</tspan></text>
<text x="537.4" y="612.5" font-family="Liberation Serif" text-anchor="middle"><tspan font-size="20" font-style="italic" font-weight="bold">O</tspan></text>
<text x="401.6" y="638.6" font-family="Liberation Serif" font-size="21" font-weight="bold" letter-spacing="2.5">&gt;0</text>
<text x="368.6" y="677" font-family="Liberation Serif" text-anchor="start"><tspan font-size="20" font-style="italic" font-weight="bold">u</tspan><tspan font-family="Liberation Sans" font-size="15" font-style="normal" font-weight="bold" letter-spacing="-0.2" dy="6.5">GS</tspan></text>
<text x="402.3" y="679" font-family="Liberation Serif" font-size="21" font-weight="bold" letter-spacing="3.5">=0</text>
<text x="401.6" y="721.9" font-family="Liberation Serif" font-size="21" font-weight="bold" letter-spacing="2.5">&lt;0</text>
<text x="650.5" y="577.5" font-family="Liberation Serif" text-anchor="start"><tspan font-size="20" font-style="italic" font-weight="bold">i</tspan><tspan font-family="Liberation Sans" font-size="14" font-style="normal" font-weight="bold" letter-spacing="0" dy="6.2">D</tspan></text>
<text x="720.5" y="592" font-family="Liberation Serif" text-anchor="start"><tspan font-size="22.5" font-style="italic" font-weight="normal">U</tspan><tspan font-family="Liberation Sans" font-size="12.5" font-style="normal" font-weight="bold" letter-spacing="1.7" dy="6.5">GS(off)</tspan></text>
<text x="659.7" y="626.5" font-family="Liberation Serif" text-anchor="middle"><tspan font-size="20" font-style="italic" font-weight="bold">O</tspan></text>
<text x="774" y="623.5" font-family="Liberation Serif" text-anchor="start"><tspan font-size="21" font-style="italic" font-weight="bold">u</tspan><tspan font-family="Liberation Sans" font-size="12.5" font-style="normal" font-weight="bold" letter-spacing="1.8" dy="5.5">GS</tspan></text>
<text x="495" y="774" font-family="Liberation Serif" text-anchor="start"><tspan font-size="20" font-style="italic" font-weight="bold">i</tspan><tspan font-family="Liberation Sans" font-size="14" font-style="normal" font-weight="bold" letter-spacing="0" dy="6.2">D</tspan></text>
<text x="548.5" y="776" font-family="Liberation Serif" text-anchor="start"><tspan font-size="20" font-style="italic" font-weight="bold">u</tspan><tspan font-family="Liberation Sans" font-size="15" font-style="normal" font-weight="bold" letter-spacing="0" dy="6.3">DS</tspan></text>
<text x="533.2" y="807.5" font-family="Liberation Serif" text-anchor="middle"><tspan font-size="20" font-style="italic" font-weight="bold">O</tspan></text>
<text x="358.3" y="839.4" font-family="Liberation Serif" text-anchor="start"><tspan font-size="20" font-style="italic" font-weight="bold">u</tspan><tspan font-family="Liberation Sans" font-size="15" font-style="normal" font-weight="bold" letter-spacing="-0.2" dy="6.5">GS</tspan></text>
<text x="397" y="842.5" font-family="Liberation Serif" font-size="21" font-weight="bold" letter-spacing="0">&lt;</text>
<text x="360.7" y="869.2" font-family="Liberation Serif" text-anchor="start"><tspan font-size="23" font-style="italic" font-weight="normal">U</tspan><tspan font-family="Liberation Sans" font-size="13.5" font-style="normal" font-weight="bold" letter-spacing="0.8" dy="6.5">GS(th)</tspan></text>
<text x="392.9" y="903.1" font-family="Liberation Serif" font-size="21" font-weight="bold" letter-spacing="0">&lt;0</text>
<text x="720" y="774.5" font-family="Liberation Serif" text-anchor="start"><tspan font-size="20" font-style="italic" font-weight="bold">i</tspan><tspan font-family="Liberation Sans" font-size="14" font-style="normal" font-weight="bold" letter-spacing="0" dy="6.2">D</tspan></text>
<text x="669" y="795" font-family="Liberation Serif" text-anchor="start"><tspan font-size="22.5" font-style="italic" font-weight="normal">U</tspan><tspan font-family="Liberation Sans" font-size="12.5" font-style="normal" font-weight="bold" letter-spacing="1.7" dy="6.5">GS(th)</tspan></text>
<text x="754.9" y="819" font-family="Liberation Serif" text-anchor="middle"><tspan font-size="20" font-style="italic" font-weight="bold">O</tspan></text>
<text x="774" y="818" font-family="Liberation Serif" text-anchor="start"><tspan font-size="21" font-style="italic" font-weight="bold">u</tspan><tspan font-family="Liberation Sans" font-size="12.5" font-style="normal" font-weight="bold" letter-spacing="1.8" dy="5.5">GS</tspan></text>
<text x="354.5" y="970.5" font-family="Liberation Serif" text-anchor="start"><tspan font-size="20" font-style="italic" font-weight="bold">i</tspan><tspan font-family="Liberation Sans" font-size="14" font-style="normal" font-weight="bold" letter-spacing="0" dy="6.2">D</tspan></text>
<text x="365.2" y="1125.5" font-family="Liberation Serif" text-anchor="middle"><tspan font-size="20" font-style="italic" font-weight="bold">O</tspan></text>
<text x="554.8" y="1119.2" font-family="Liberation Serif" text-anchor="start"><tspan font-size="20" font-style="italic" font-weight="bold">u</tspan><tspan font-family="Liberation Sans" font-size="15" font-style="normal" font-weight="bold" letter-spacing="0" dy="6.3">DS</tspan></text>
<text x="509.2" y="992.4" font-family="Liberation Serif" text-anchor="start"><tspan font-size="20" font-style="italic" font-weight="bold">u</tspan><tspan font-family="Liberation Sans" font-size="15" font-style="normal" font-weight="bold" letter-spacing="-0.2" dy="6.5">GS</tspan></text>
<text x="541" y="995" font-family="Liberation Serif" font-size="21" font-weight="bold" letter-spacing="0">=0</text>
<text x="541.5" y="1061.1" font-family="Liberation Serif" font-size="21" font-weight="bold" letter-spacing="0">&lt;0</text>
<text x="715" y="968" font-family="Liberation Serif" text-anchor="start"><tspan font-size="20" font-style="italic" font-weight="bold">i</tspan><tspan font-family="Liberation Sans" font-size="14" font-style="normal" font-weight="bold" letter-spacing="0" dy="6.2">D</tspan></text>
<text x="749.5" y="1001.5" font-family="Liberation Serif" text-anchor="start"><tspan font-size="21" font-style="italic" font-weight="bold">I</tspan><tspan font-family="Liberation Sans" font-size="12.5" font-style="normal" font-weight="bold" letter-spacing="1.2" dy="5">DSS</tspan></text>
<text x="638" y="1107.5" font-family="Liberation Serif" text-anchor="start"><tspan font-size="22.5" font-style="italic" font-weight="normal">U</tspan><tspan font-family="Liberation Sans" font-size="12.5" font-style="normal" font-weight="bold" letter-spacing="1.7" dy="6.5">GS(off)</tspan></text>
<text x="739.4" y="1108.5" font-family="Liberation Serif" text-anchor="middle"><tspan font-size="20" font-style="italic" font-weight="bold">O</tspan></text>
<text x="767.5" y="1107.5" font-family="Liberation Serif" text-anchor="start"><tspan font-size="21" font-style="italic" font-weight="bold">u</tspan><tspan font-family="Liberation Sans" font-size="12.5" font-style="normal" font-weight="bold" letter-spacing="1.8" dy="5.5">GS</tspan></text>
<text x="496.5" y="1169.5" font-family="Liberation Serif" text-anchor="start"><tspan font-size="20" font-style="italic" font-weight="bold">i</tspan><tspan font-family="Liberation Sans" font-size="14" font-style="normal" font-weight="bold" letter-spacing="0" dy="6.2">D</tspan></text>
<text x="534.6" y="1204.5" font-family="Liberation Serif" text-anchor="middle"><tspan font-size="20" font-style="italic" font-weight="bold">O</tspan></text>
<text x="555.4" y="1201.1" font-family="Liberation Serif" text-anchor="start"><tspan font-size="20" font-style="italic" font-weight="bold">u</tspan><tspan font-family="Liberation Sans" font-size="15" font-style="normal" font-weight="bold" letter-spacing="0" dy="6.3">DS</tspan></text>
<text x="365" y="1255.5" font-family="Liberation Serif" text-anchor="start"><tspan font-size="20" font-style="italic" font-weight="bold">u</tspan><tspan font-family="Liberation Sans" font-size="15" font-style="normal" font-weight="bold" letter-spacing="-0.2" dy="6.5">GS</tspan></text>
<text x="399.3" y="1256.8" font-family="Liberation Serif" font-size="21" font-weight="bold" letter-spacing="0">&gt;0</text>
<text x="401.8" y="1314.2" font-family="Liberation Serif" font-size="21" font-weight="bold" letter-spacing="3">=0</text>
<text x="649" y="1177.5" font-family="Liberation Serif" text-anchor="start"><tspan font-size="20" font-style="italic" font-weight="bold">i</tspan><tspan font-family="Liberation Sans" font-size="14" font-style="normal" font-weight="bold" letter-spacing="0" dy="6.2">D</tspan></text>
<text x="719.5" y="1191" font-family="Liberation Serif" text-anchor="start"><tspan font-size="22.5" font-style="italic" font-weight="normal">U</tspan><tspan font-family="Liberation Sans" font-size="12.5" font-style="normal" font-weight="bold" letter-spacing="1.7" dy="6.5">GS(off)</tspan></text>
<text x="659.7" y="1225" font-family="Liberation Serif" text-anchor="middle"><tspan font-size="20" font-style="italic" font-weight="bold">O</tspan></text>
<text x="776.5" y="1222.5" font-family="Liberation Serif" text-anchor="start"><tspan font-size="21" font-style="italic" font-weight="bold">u</tspan><tspan font-family="Liberation Sans" font-size="12.5" font-style="normal" font-weight="bold" letter-spacing="1.8" dy="5.5">GS</tspan></text>
<text x="630.5" y="1298" font-family="Liberation Serif" text-anchor="start"><tspan font-size="21" font-style="italic" font-weight="bold">I</tspan><tspan font-family="Liberation Sans" font-size="12.5" font-style="normal" font-weight="bold" letter-spacing="1.2" dy="5">DSS</tspan></text>
<text x="840.5" y="103.5" font-family="Liberation Serif" text-anchor="start"><tspan font-size="22" font-style="italic" font-weight="normal">U</tspan><tspan font-family="Liberation Serif" font-size="10.5" font-style="normal" font-weight="normal" letter-spacing="1.5" dy="4">(GS(off)</tspan></text>
<text x="850" y="137" font-family="Liberation Serif" text-anchor="start"><tspan font-size="22" font-style="italic" font-weight="normal">U</tspan><tspan font-family="Liberation Serif" font-size="10.5" font-style="normal" font-weight="normal" letter-spacing="1.5" dy="4.5">(GS(th)</tspan></text>
<text x="949.5" y="120" font-family="Liberation Serif" text-anchor="start"><tspan font-size="19" font-style="italic" font-weight="bold">u</tspan><tspan font-family="Liberation Serif" font-size="11" font-style="normal" font-weight="normal" letter-spacing="1.6" dy="3.5">GS</tspan></text>
<path d="M867.8 249.1Q859.8 257.1 867.8 265.1" stroke="#1e1e1e" stroke-width="1.5" fill="none" stroke-linecap="round" stroke-linejoin="round"/>
<path d="M899.8 249.1Q907.8 257.1 899.8 265.1" stroke="#1e1e1e" stroke-width="1.5" fill="none" stroke-linecap="round" stroke-linejoin="round"/>
<path d="M875.3 257.1L892.3 257.1" stroke="#1e1e1e" stroke-width="1.6" stroke-linecap="butt"/>
<path d="M949.1 249.1Q941.1 257.1 949.1 265.1" stroke="#1e1e1e" stroke-width="1.5" fill="none" stroke-linecap="round" stroke-linejoin="round"/>
<path d="M981.1 249.1Q989.1 257.1 981.1 265.1" stroke="#1e1e1e" stroke-width="1.5" fill="none" stroke-linecap="round" stroke-linejoin="round"/>
<path d="M956.6 257.1L973.6 257.1" stroke="#1e1e1e" stroke-width="1.6" stroke-linecap="butt"/>
<path d="M965.1 248.6L965.1 265.6" stroke="#1e1e1e" stroke-width="1.6" stroke-linecap="butt"/>
<path d="M867.8 447.4Q859.8 455.4 867.8 463.4" stroke="#1e1e1e" stroke-width="1.5" fill="none" stroke-linecap="round" stroke-linejoin="round"/>
<path d="M899.8 447.4Q907.8 455.4 899.8 463.4" stroke="#1e1e1e" stroke-width="1.5" fill="none" stroke-linecap="round" stroke-linejoin="round"/>
<path d="M875.3 455.4L892.3 455.4" stroke="#1e1e1e" stroke-width="1.6" stroke-linecap="butt"/>
<path d="M883.8 446.9L883.8 463.9" stroke="#1e1e1e" stroke-width="1.6" stroke-linecap="butt"/>
<path d="M948.5 447.4Q940.5 455.4 948.5 463.4" stroke="#1e1e1e" stroke-width="1.5" fill="none" stroke-linecap="round" stroke-linejoin="round"/>
<path d="M980.5 447.4Q988.5 455.4 980.5 463.4" stroke="#1e1e1e" stroke-width="1.5" fill="none" stroke-linecap="round" stroke-linejoin="round"/>
<path d="M956 455.4L973 455.4" stroke="#1e1e1e" stroke-width="1.6" stroke-linecap="butt"/>
<path d="M964.5 446.9L964.5 463.9" stroke="#1e1e1e" stroke-width="1.6" stroke-linecap="butt"/>
<path d="M866.3 643.2Q858.3 651.2 866.3 659.2" stroke="#1e1e1e" stroke-width="1.5" fill="none" stroke-linecap="round" stroke-linejoin="round"/>
<path d="M898.3 643.2Q906.3 651.2 898.3 659.2" stroke="#1e1e1e" stroke-width="1.5" fill="none" stroke-linecap="round" stroke-linejoin="round"/>
<path d="M873.8 651.2L890.8 651.2" stroke="#1e1e1e" stroke-width="1.6" stroke-linecap="butt"/>
<path d="M882.3 642.7L882.3 659.7" stroke="#1e1e1e" stroke-width="1.6" stroke-linecap="butt"/>
<path d="M947 643.2Q939 651.2 947 659.2" stroke="#1e1e1e" stroke-width="1.5" fill="none" stroke-linecap="round" stroke-linejoin="round"/>
<path d="M979 643.2Q987 651.2 979 659.2" stroke="#1e1e1e" stroke-width="1.5" fill="none" stroke-linecap="round" stroke-linejoin="round"/>
<path d="M954.5 651.2L971.5 651.2" stroke="#1e1e1e" stroke-width="1.6" stroke-linecap="butt"/>
<path d="M864.8 840.9Q856.8 848.9 864.8 856.9" stroke="#1e1e1e" stroke-width="1.5" fill="none" stroke-linecap="round" stroke-linejoin="round"/>
<path d="M896.8 840.9Q904.8 848.9 896.8 856.9" stroke="#1e1e1e" stroke-width="1.5" fill="none" stroke-linecap="round" stroke-linejoin="round"/>
<path d="M872.3 848.9L889.3 848.9" stroke="#1e1e1e" stroke-width="1.6" stroke-linecap="butt"/>
<path d="M946.2 840.9Q938.2 848.9 946.2 856.9" stroke="#1e1e1e" stroke-width="1.5" fill="none" stroke-linecap="round" stroke-linejoin="round"/>
<path d="M978.2 840.9Q986.2 848.9 978.2 856.9" stroke="#1e1e1e" stroke-width="1.5" fill="none" stroke-linecap="round" stroke-linejoin="round"/>
<path d="M953.7 848.9L970.7 848.9" stroke="#1e1e1e" stroke-width="1.6" stroke-linecap="butt"/>
<path d="M864 1037.4Q856 1045.4 864 1053.4" stroke="#1e1e1e" stroke-width="1.5" fill="none" stroke-linecap="round" stroke-linejoin="round"/>
<path d="M896 1037.4Q904 1045.4 896 1053.4" stroke="#1e1e1e" stroke-width="1.5" fill="none" stroke-linecap="round" stroke-linejoin="round"/>
<path d="M871.5 1045.4L888.5 1045.4" stroke="#1e1e1e" stroke-width="1.6" stroke-linecap="butt"/>
<path d="M944.7 1037.4Q936.7 1045.4 944.7 1053.4" stroke="#1e1e1e" stroke-width="1.5" fill="none" stroke-linecap="round" stroke-linejoin="round"/>
<path d="M976.7 1037.4Q984.7 1045.4 976.7 1053.4" stroke="#1e1e1e" stroke-width="1.5" fill="none" stroke-linecap="round" stroke-linejoin="round"/>
<path d="M952.2 1045.4L969.2 1045.4" stroke="#1e1e1e" stroke-width="1.6" stroke-linecap="butt"/>
<path d="M960.7 1036.9L960.7 1053.9" stroke="#1e1e1e" stroke-width="1.6" stroke-linecap="butt"/>
<path d="M862.5 1235Q854.5 1243 862.5 1251" stroke="#1e1e1e" stroke-width="1.5" fill="none" stroke-linecap="round" stroke-linejoin="round"/>
<path d="M894.5 1235Q902.5 1243 894.5 1251" stroke="#1e1e1e" stroke-width="1.5" fill="none" stroke-linecap="round" stroke-linejoin="round"/>
<path d="M870 1243L887 1243" stroke="#1e1e1e" stroke-width="1.6" stroke-linecap="butt"/>
<path d="M878.5 1234.5L878.5 1251.5" stroke="#1e1e1e" stroke-width="1.6" stroke-linecap="butt"/>
<path d="M943.2 1235Q935.2 1243 943.2 1251" stroke="#1e1e1e" stroke-width="1.5" fill="none" stroke-linecap="round" stroke-linejoin="round"/>
<path d="M975.2 1235Q983.2 1243 975.2 1251" stroke="#1e1e1e" stroke-width="1.5" fill="none" stroke-linecap="round" stroke-linejoin="round"/>
<path d="M950.7 1243L967.7 1243" stroke="#1e1e1e" stroke-width="1.6" stroke-linecap="butt"/>
</g></svg>
</body></html>
